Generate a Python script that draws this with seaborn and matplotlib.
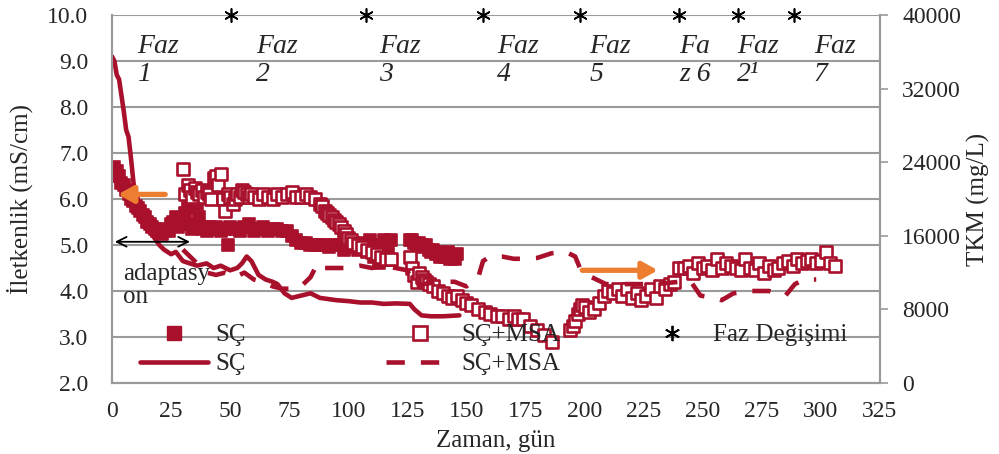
import matplotlib
matplotlib.use("Agg")
import matplotlib.pyplot as plt
from matplotlib.lines import Line2D
import seaborn as sns
import pandas as pd

# ---------------- data ----------------
sc_cond_day = [0, 1, 2, 3, 4, 5, 6, 7, 8, 9, 10, 11, 12, 13, 14, 15, 16, 17, 18, 19,
               20, 21, 22, 23, 24, 25, 26, 27, 28, 29, 30, 31, 32, 33, 34, 35, 36, 37,
               38, 39, 40, 41, 42, 44, 46, 48, 49, 50, 52, 54, 56, 58, 60, 62, 64, 66,
               68, 70, 72, 74, 76, 78, 80, 82, 84, 86, 88, 90, 92, 94, 96, 98, 100, 102,
               104, 106, 108, 109, 110, 111, 112, 113, 114, 115, 116, 117, 118,
               126, 127, 128, 129, 130, 131, 132, 133, 134, 135, 136, 137, 138, 139,
               140, 141, 142, 143, 144, 145, 146]
sc_cond_val = [6.6, 6.7, 6.6, 6.5, 6.35, 6.3, 6.2, 6.1, 6.0, 5.95, 5.85, 5.8, 5.75, 5.65,
               5.6, 5.5, 5.45, 5.4, 5.35, 5.3, 5.3, 5.25, 5.3, 5.35, 5.3, 5.45, 5.5, 5.6,
               5.4, 5.45, 5.55, 5.7, 5.8, 5.45, 5.35, 5.4, 5.9, 5.6, 5.35, 5.4, 5.3, 5.4,
               5.35, 5.4, 5.3, 5.35, 5.0, 5.4, 5.35, 5.3, 5.4, 5.45, 5.3, 5.35, 5.4, 5.3,
               5.35, 5.35, 5.3, 5.3, 5.2, 5.1, 5.05, 5.05, 5.0, 5.0, 5.0, 5.0, 4.95, 5.0,
               5.0, 4.9, 4.95, 5.0, 4.9, 5.05, 4.85, 5.1, 4.95, 4.75, 5.0, 4.6, 4.85, 5.1,
               4.7, 4.9, 5.1,
               5.1, 5.1, 5.05, 5.0, 5.05, 5.0, 4.95, 5.0, 4.9, 4.85, 4.9, 4.8, 4.85, 4.75,
               4.8, 4.75, 4.85, 4.7, 4.75, 4.7, 4.8]

msa_cond_day = [30, 31, 32, 33, 34, 35, 36, 37, 38, 39, 40, 41, 42, 43, 44, 45, 46, 47, 48,
                49, 50, 51, 52, 53, 54, 55, 56, 57, 58, 59, 60, 62, 64, 66, 68, 70, 72, 74,
                76, 78, 80, 82, 84, 86, 88, 89, 90, 91, 92, 93, 94, 95, 96, 97, 98, 99, 100,
                101, 102, 104, 106, 108, 110, 112, 114, 116, 118,
                126, 127, 128, 129, 130, 131, 132, 133, 134, 136, 138, 140, 142, 144, 146,
                148, 150, 152, 155, 158, 160, 163, 165, 168, 170, 172, 174, 177, 180, 183,
                186,
                194, 195, 196, 197, 198, 199, 200, 202, 204, 206, 208, 210, 212, 214, 216,
                218, 220, 222, 224, 226, 228, 230, 232, 234, 236, 238, 240, 242, 244, 246,
                248, 250, 252, 254, 256, 258, 260, 262, 264, 266, 268, 270, 272, 274, 276,
                278, 280, 282, 284, 286, 288, 290, 292, 294, 296, 298, 300, 302, 304, 306]
msa_cond_val = [6.65, 6.1, 6.3, 6.2, 6.05, 6.25, 6.15, 6.1, 6.2, 6.05, 6.15, 6.1, 6.0, 6.45,
                6.5, 6.3, 6.55, 6.0, 5.75, 6.1, 6.05, 5.9, 6.0, 6.1, 6.05, 6.2, 6.15, 6.1,
                6.05, 6.1, 6.05, 6.0, 6.1, 6.05, 6.0, 6.1, 6.05, 6.1, 6.15, 6.05, 6.05, 6.1,
                6.05, 6.0, 5.9, 5.85, 5.75, 5.7, 5.65, 5.6, 5.55, 5.5, 5.45, 5.4, 5.3, 5.25,
                5.15, 5.1, 5.05, 5.0, 4.95, 4.9, 4.85, 4.8, 4.75, 4.7, 4.7,
                4.75, 4.5, 4.35, 4.2, 4.4, 4.3, 4.25, 4.2, 4.15, 4.1, 4.0, 3.95, 3.9, 3.85,
                3.9, 3.8, 3.75, 3.7, 3.6, 3.55, 3.5, 3.45, 3.45, 3.4, 3.45, 3.4, 3.4, 3.25,
                3.15, 3.05, 2.9,
                3.15, 3.25, 3.35, 3.5, 3.6, 3.7, 3.65, 3.55, 3.6, 3.75, 3.9, 4.0, 3.95,
                4.05, 3.9, 4.05, 3.85, 3.95, 3.8, 3.9, 4.05, 3.85, 4.1, 4.05, 4.15, 4.2,
                4.5, 4.5, 4.55, 4.4, 4.6, 4.5, 4.55, 4.45, 4.7, 4.5, 4.6, 4.55, 4.5, 4.45,
                4.7, 4.5, 4.45, 4.6, 4.4, 4.55, 4.45, 4.5, 4.6, 4.65, 4.55, 4.7, 4.6, 4.65,
                4.7, 4.6, 4.65, 4.85, 4.6, 4.55]

sc_tkm_day = [0, 1, 2, 3, 5, 6, 7, 8, 9, 10, 12, 14, 16, 18, 20, 22, 25, 27, 30, 33, 36,
              40, 43, 46, 50, 53, 55, 57, 59, 62, 65, 68, 70, 73, 76, 80, 84, 88, 95, 100,
              105, 110, 115, 120, 126, 128, 131, 135, 140, 147]
sc_tkm_val = [35500, 35000, 33500, 33000, 29500, 27500, 26750, 24500, 22000, 20000, 19000,
              17500, 16500, 15750, 15000, 14500, 14000, 14250, 13250, 13000, 12750, 13000,
              12500, 12750, 12250, 12500, 13000, 13750, 13250, 11750, 11250, 11000, 10750,
              9750, 9250, 9500, 9750, 9250, 9000, 8900, 8750, 8750, 8600, 8650, 8600, 8000,
              7350, 7250, 7250, 7350]

msa_tkm_day = [30, 33, 36, 40, 44, 48, 52, 56, 60, 64, 68, 72, 76, 80, 84, 87, 90, 95, 100,
               105, 110, 115, 120, 125, 128, 132, 138, 145, 150, 155, 157, 160, 165, 170,
               175, 180, 186, 192, 196, 198, 203, 209, 220, 230, 240, 245, 249, 255, 258,
               263, 270, 278, 285, 289, 293, 298]
msa_tkm_val = [14500, 13750, 13000, 12000, 11750, 12000, 11500, 12000, 11250, 11000, 10500,
               10250, 10250, 10500, 11500, 13000, 12500, 12500, 12500, 12750, 12500, 12750,
               12500, 12250, 10500, 10750, 11000, 11000, 10500, 11500, 13250, 13750, 13750,
               13500, 13500, 13600, 14100, 14250, 13750, 12500, 11500, 10750, 10750, 10750,
               11000, 11000, 9500, 9250, 9000, 9750, 10000, 10000, 9500, 10750, 11250, 11250]

phase_change_day = [50.4, 107.5, 157, 198, 240, 265, 288.6]
phase_change_val = [10.0] * 7

phase_labels = ["Faz\n1", "Faz\n2", "Faz\n3", "Faz\n4", "Faz\n5", "Fa\nz 6", "Faz\n2\u00b9", "Faz\n7"]
phase_label_day = [10.5, 61, 113, 163, 202, 240, 264.5, 297]

x_ticks = list(range(0, 326, 25))
left_ticks = [2.0, 3.0, 4.0, 5.0, 6.0, 7.0, 8.0, 9.0, 10.0]
right_ticks = list(range(0, 40001, 8000))

# ---------------- style ----------------
sns.set_style("white")
plt.rcParams["font.family"] = ["Liberation Serif", "DejaVu Serif"]
RED = "#A8102C"
GRID = "#9A9A9A"
FS = 17

fig = plt.figure(figsize=(9.99, 4.54), dpi=100)
ax = fig.add_axes([112 / 999, 1 - 383 / 454, (880 - 112) / 999, (383 - 15) / 454])
ax2 = ax.twinx()

df_sc = pd.DataFrame({"day": sc_cond_day, "val": sc_cond_val})
df_msa = pd.DataFrame({"day": msa_cond_day, "val": msa_cond_val})
df_sct = pd.DataFrame({"day": sc_tkm_day, "val": sc_tkm_val})
df_msat = pd.DataFrame({"day": msa_tkm_day, "val": msa_tkm_val})
df_ph = pd.DataFrame({"day": phase_change_day, "val": phase_change_val})

sns.scatterplot(data=df_sc, x="day", y="val", ax=ax, marker="s", s=85, color=RED,
                edgecolor=RED, linewidth=1.2, zorder=3)
sns.scatterplot(data=df_msa, x="day", y="val", ax=ax, marker="s", s=85, facecolor="white",
                edgecolor=RED, linewidth=1.9, zorder=3)

sns.lineplot(data=df_sct, x="day", y="val", ax=ax2, color=RED, linewidth=3.3,
             estimator=None, sort=False)
sns.lineplot(data=df_msat, x="day", y="val", ax=ax2, color=RED, linewidth=3.3,
             estimator=None, sort=False, dashes=False)
ax2.lines[-1].set_linestyle((0, (4, 3.5)))

sns.scatterplot(data=df_ph, x="day", y="val", ax=ax, marker=(6, 2, 0), s=90,
                color="black", linewidth=1.2, zorder=5, clip_on=False)

# axes
ax.set_xlim(0, 325)
ax.set_ylim(2.0, 10.0)
ax2.set_ylim(0, 40000)
ax.set_xticks(x_ticks)
ax.set_yticks(left_ticks)
ax.set_yticklabels([f"{t:.1f}" for t in left_ticks])
ax2.set_yticks(right_ticks)
ax2.set_yticklabels([str(t) for t in right_ticks])
ax.tick_params(axis="y", labelsize=FS, length=0, pad=17)
ax.tick_params(axis="x", labelsize=FS, length=0, pad=13)
ax2.tick_params(axis="y", labelsize=FS, length=6, width=1.2, color=GRID, pad=10, direction="out")
ax.grid(axis="y", color=GRID, linewidth=1.5)
ax.grid(axis="x", visible=False)
ax2.grid(False)
for a in (ax, ax2):
    for side in ("left", "bottom", "right"):
        a.spines[side].set_visible(True)
        a.spines[side].set_color(GRID)
        a.spines[side].set_linewidth(1.5)
    a.spines["top"].set_visible(False)

ax.set_xlabel("Zaman, gün", fontsize=18, labelpad=6)
ax.set_ylabel("İletkenlik (mS/cm)", fontsize=18, labelpad=10)
ax2.set_ylabel("TKM (mg/L)", fontsize=18, labelpad=4)
ax2.set_xlabel("")

# phase labels
for lab, d in zip(phase_labels, phase_label_day):
    ax2.text(d, 9.02, lab, transform=ax.transData, fontsize=20, style="italic",
             ha="left", va="center", linespacing=1.15, zorder=6)

# arrows
orange = "#ED7D31"
ax2.annotate("", xy=(2.5, 6.1), xytext=(22.5, 6.1), xycoords=ax.transData,
             textcoords=ax.transData,
             arrowprops=dict(arrowstyle="-|>,head_length=0.9,head_width=0.5",
                             color=orange, lw=3.8, shrinkA=0, shrinkB=0), zorder=7)
ax2.annotate("", xy=(231, 4.45), xytext=(199, 4.45), xycoords=ax.transData,
             textcoords=ax.transData,
             arrowprops=dict(arrowstyle="-|>,head_length=0.9,head_width=0.5",
                             color=orange, lw=3.8, shrinkA=0, shrinkB=0), zorder=7)
ax2.annotate("", xy=(1.2, 5.07), xytext=(33, 5.07), xycoords=ax.transData,
             textcoords=ax.transData,
             arrowprops=dict(arrowstyle="<->,head_length=0.7,head_width=0.35",
                             color="black", lw=1.3, shrinkA=0, shrinkB=0), zorder=7)
ax2.text(4.5, 4.12, "adaptasy\non", transform=ax.transData, fontsize=18,
         ha="left", va="center", linespacing=1.1, zorder=7)

# legends
h_sc_sq = Line2D([], [], marker="s", color=RED, linestyle="none", markersize=10)
h_sc_ln = Line2D([], [], color=RED, linewidth=3.3)
h_msa_sq = Line2D([], [], marker="s", markerfacecolor="white", markeredgecolor=RED,
                  markeredgewidth=1.9, linestyle="none", markersize=10)
h_msa_ln = Line2D([], [], color=RED, linewidth=3.3, linestyle=(0, (4, 3.5)))
h_ph = Line2D([], [], marker=(6, 2, 0), color="black", linestyle="none", markersize=11,
              markeredgewidth=1.3)

common = dict(frameon=False, fontsize=18, handlelength=2.7, handletextpad=0.3,
              labelspacing=0.25, borderpad=0, borderaxespad=0, loc="upper left",
              bbox_transform=fig.transFigure)
legA = ax2.legend([h_sc_sq, h_sc_ln], ["SÇ", "SÇ"], bbox_to_anchor=(140 / 999, 1 - 324 / 454), **common)
ax2.add_artist(legA)
legB = ax2.legend([h_msa_sq, h_msa_ln], ["SÇ+MSA", "SÇ+MSA"], bbox_to_anchor=(386 / 999, 1 - 324 / 454), **common)
ax2.add_artist(legB)
legC = ax2.legend([h_ph], ["Faz Değişimi"], bbox_to_anchor=(638 / 999, 1 - 324 / 454), **common)

fig.savefig("out.png", dpi=100)
